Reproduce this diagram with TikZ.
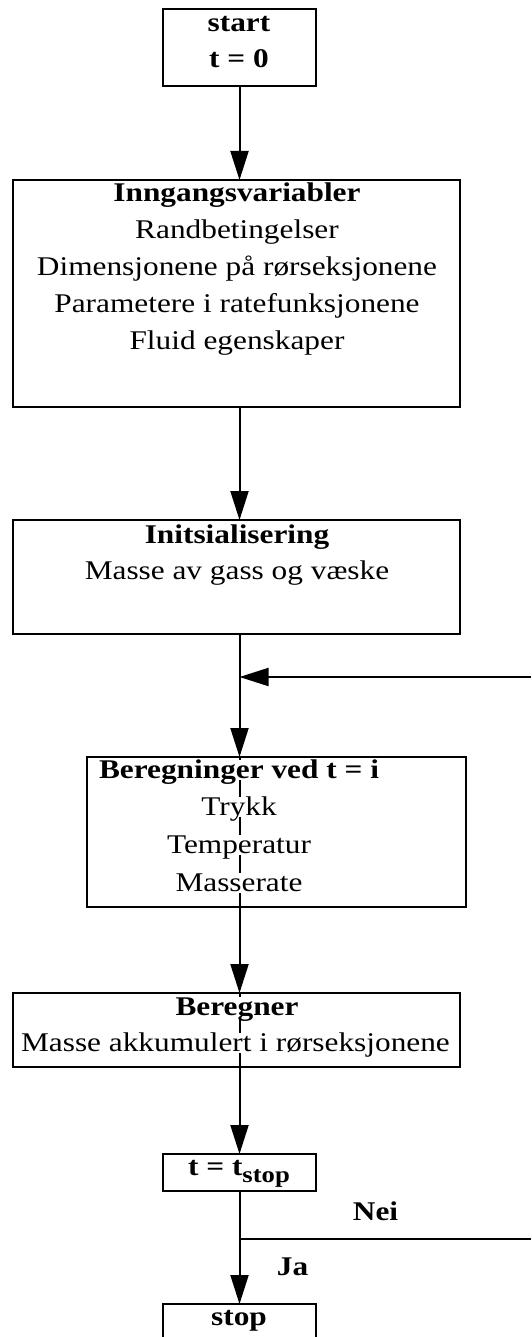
\documentclass[tikz,border=0pt]{standalone}
\usepackage{fontspec}
\setmainfont{Liberation Serif}[FakeStretch=1.16]
\usetikzlibrary{arrows.meta}
\begin{document}
\begin{tikzpicture}[x=1pt,y=-1pt,
  box/.style={draw,line width=2pt,rectangle,inner sep=0pt,outer sep=0pt},
  txt/.style={inner sep=0pt,anchor=base,font=\fontsize{27}{37}\selectfont},
  bold/.style={txt,font=\fontsize{27}{37}\selectfont\bfseries},
  cut/.style={fill=white,text height=18pt,text depth=2pt},
  flow/.style={line width=2pt},
  arr/.style={flow,-{Triangle[length=29pt,width=18pt]}}]
\useasboundingbox (0,0) rectangle (531,1337);
\clip (0,0) rectangle (531,1337);

% boxes
\node[box,minimum width=153pt,minimum height=77pt]  (start) at (239.5,47.5) {};
\node[box,minimum width=447pt,minimum height=227pt] (inn)   at (236.5,293.5) {};
\node[box,minimum width=447pt,minimum height=114pt] (init)  at (236.5,577) {};
\node[box,minimum width=379pt,minimum height=150pt] (ber1)  at (276.5,832) {};
\node[box,minimum width=447pt,minimum height=74pt]  (ber2)  at (236.5,1030) {};
\node[box,minimum width=153pt,minimum height=37pt]  (tst)   at (239.5,1172.5) {};
\node[box,minimum width=153pt,minimum height=60pt]  (stop)  at (239.5,1334) {};

% junctions of the loop
\coordinate (loop)   at (239.5,677);
\coordinate (loopin) at (531,677);
\coordinate (nei)    at (239.5,1239);
\coordinate (neiout) at (531,1239);

% connectors
\draw[arr]  (start.south) -- (start.south |- inn.north);
\draw[arr]  (start.south |- inn.south) -- (start.south |- init.north);
\draw[flow] (start.south |- init.south) -- (loop);
\draw[arr]  (loopin) -- (loop);
\draw[arr]  (loop) -- (loop |- ber1.north);
\draw[flow] (loop |- ber1.north) -- (loop |- ber1.south);
\draw[arr]  (loop |- ber1.south) -- (loop |- ber2.north);
\draw[flow] (loop |- ber2.north) -- (loop |- ber2.south);
\draw[arr]  (loop |- ber2.south) -- (tst.north);
\draw[flow] (tst.south) -- (nei);
\draw[flow] (nei) -- (neiout);
\draw[arr]  (nei) -- (stop.north);

% texts
\node[txt] (startT) at (239,32) {\begin{tabular}[t]{@{}c@{}}\bfseries start\\[-1pt]\bfseries t = 0\end{tabular}};
\node[txt] (innT) at (237,202) {\begin{tabular}[t]{@{}c@{}}\textbf{Inngangsvariabler}\\Randbetingelser\\Dimensjonene på rørseksjonene\\Parametere i ratefunksjonene\\Fluid egenskaper\end{tabular}};
\node[txt] (initT) at (237,543) {\begin{tabular}[t]{@{}c@{}}\textbf{Initsialisering}\\[-1pt]Masse av gass og væske\end{tabular}};

\node[bold,cut] (b1a) at (239,778) {Beregninger ved t = i};
\node[txt,cut]  (b1b) at (239,815) {Trykk};
\node[txt,cut]  (b1c) at (239,853) {Temperatur};
\node[txt,cut]  (b1d) at (239,891) {Masserate};

\node[bold,cut] (b2a) at (237,1015) {Beregner};
\node[txt,cut]  (b2b) at (235.5,1051) {Masse akkumulert i rørseksjonene};

\node[bold] (tstT) at (239,1175) {t = t\raisebox{-7pt}{\fontsize{23}{23}\selectfont stop}};
\node[bold] (neiT) at (375.5,1220) {Nei};
\node[bold] (jaT)  at (292.5,1275) {Ja};
\node[bold] (stopT) at (239,1325) {stop};
\end{tikzpicture}
\end{document}
